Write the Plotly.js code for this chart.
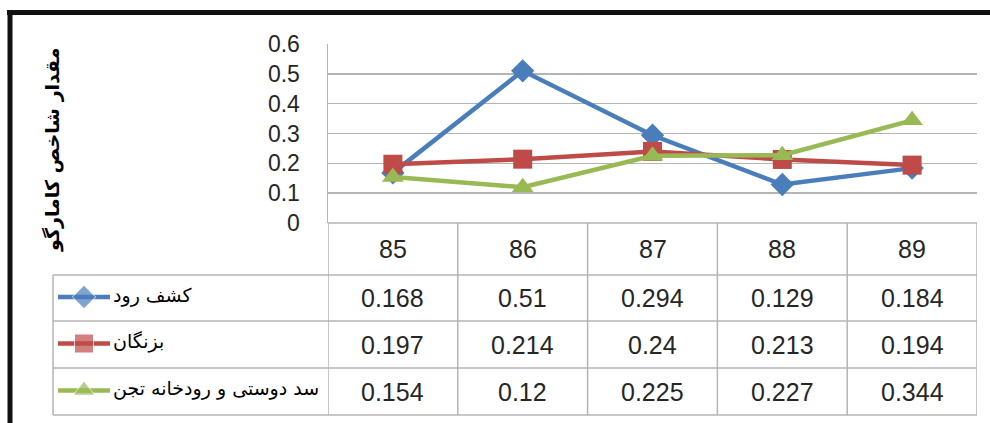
<!DOCTYPE html>
<html><head><meta charset="utf-8">
<script src="https://cdn.plot.ly/plotly-3.0.1.min.js"></script>
<style>html,body{margin:0;padding:0;background:#fff}#chart{width:990px;height:423px}</style>
</head><body><div id="chart"></div>
<script>
// ---- data ----
const years = ['85', '86', '87', '88', '89'];
const seriesNames = ['کشف رود', 'بزنگان', 'سد دوستی و رودخانه تجن'];
const kashafRud = [0.168, 0.51, 0.294, 0.129, 0.184];
const bazangan = [0.197, 0.214, 0.24, 0.213, 0.194];
const dustiTajan = [0.154, 0.12, 0.225, 0.227, 0.344];
const yTitle = 'مقدار شاخص کامارگو';

// ---- styles / geometry ----
const W = 990, H = 423;
const L = 328, R = 977, T = 44, B = 223;        // plot area (pixels)
const rowLines = [223, 275, 321, 368, 415];      // table horizontal lines
const tableLeft = 53;
const colors = ['#4A7EBB', '#BE4B48', '#98B954'];
const symbols = ['diamond', 'square', 'triangle-up'];
const msizes = [18, 19, 19];
const seriesVals = [kashafRud, bazangan, dustiTajan];
const numFont = {family: '"Liberation Sans", Arial, sans-serif', size: 25, color: '#262626'};
const arFont = {family: '"DejaVu Sans", sans-serif', size: 19, color: '#000'};
const gridCol = '#B4B4B4';

const traces = [];
seriesVals.forEach((vals, i) => {
  traces.push({
    type: 'scatter', mode: 'lines+markers', x: years, y: vals, name: seriesNames[i],
    line: {color: colors[i], width: 4.5}, marker: {symbol: symbols[i], size: msizes[i], color: colors[i]},
    xaxis: 'x', yaxis: 'y', showlegend: false, hoverinfo: 'skip'
  });
});

const shapes = [];
const annotations = [];
// black frame (top + left)
shapes.push({type: 'line', xref: 'x2', yref: 'y2', x0: 7, x1: 990, y0: 12.5, y1: 12.5, line: {color: '#111', width: 5}});
shapes.push({type: 'line', xref: 'x2', yref: 'y2', x0: 10, x1: 10, y0: 10, y1: 423, line: {color: '#111', width: 5}});

// table horizontal lines
rowLines.forEach((y, k) => {
  shapes.push({type: 'line', xref: 'x2', yref: 'y2', x0: k === 0 ? L : tableLeft, x1: R, y0: y, y1: y,
    line: {color: gridCol, width: 1.5}});
});
// table vertical lines (category boundaries)
for (let k = 0; k <= years.length; k++) {
  shapes.push({type: 'line', xref: 'x', yref: 'y2', x0: k - 0.5, x1: k - 0.5, y0: rowLines[0], y1: rowLines[4],
    line: {color: gridCol, width: 1.5}});
}
// left column vertical line
shapes.push({type: 'line', xref: 'x2', yref: 'y2', x0: tableLeft, x1: tableLeft, y0: rowLines[1], y1: rowLines[4],
  line: {color: gridCol, width: 1.5}});

// header years
years.forEach((yr, j) => {
  annotations.push({xref: 'x', yref: 'y2', x: j, y: (rowLines[0] + rowLines[1]) / 2, text: yr,
    showarrow: false, font: numFont, xanchor: 'center', yanchor: 'middle'});
});
// values
seriesVals.forEach((vals, i) => {
  const yc = (rowLines[i + 1] + rowLines[i + 2]) / 2;
  vals.forEach((v, j) => {
    annotations.push({xref: 'x', yref: 'y2', x: j, y: yc, text: String(v),
      showarrow: false, font: numFont, xanchor: 'center', yanchor: 'middle'});
  });
  // legend key
  traces.push({
    type: 'scatter', mode: 'lines+markers', x: [58, 84, 110], y: [yc - 1, yc - 1, yc - 1],
    line: {color: colors[i], width: 4.5},
    marker: {symbol: symbols[i], size: [0, msizes[i], 0], color: colors[i]},
    xaxis: 'x2', yaxis: 'y2', showlegend: false, hoverinfo: 'skip', cliponaxis: false
  });
  annotations.push({xref: 'x2', yref: 'y2', x: 111, y: yc - 3, text: seriesNames[i],
    showarrow: false, font: arFont, xanchor: 'left', yanchor: 'middle'});
});
// y axis title
annotations.push({xref: 'x2', yref: 'y2', x: 52, y: 150, text: '<b>' + yTitle + '</b>', textangle: -90,
  showarrow: false, font: {family: '"DejaVu Sans", sans-serif', size: 19, color: '#000'},
  xanchor: 'center', yanchor: 'middle'});

const layout = {
  width: W, height: H, margin: {l: 0, r: 0, t: 0, b: 0},
  paper_bgcolor: '#fff', plot_bgcolor: 'rgba(0,0,0,0)', showlegend: false,
  xaxis: {type: 'category', domain: [L / W, R / W], range: [-0.5, years.length - 0.5],
    showticklabels: false, showgrid: false, zeroline: false, showline: false, ticks: '', fixedrange: true},
  yaxis: {domain: [(H - B) / H, (H - T) / H], range: [0, 0.6], dtick: 0.1, tick0: 0,
    showgrid: true, gridcolor: gridCol, gridwidth: 1.5, zeroline: false,
    showline: true, linecolor: gridCol, linewidth: 1.5, ticks: '', ticklabelstandoff: 22,
    tickfont: {family: numFont.family, size: 23, color: '#262626'}, fixedrange: true},
  xaxis2: {domain: [0, 1], range: [0, W], visible: false, fixedrange: true, anchor: 'y2'},
  yaxis2: {domain: [0, 1], range: [H, 0], visible: false, fixedrange: true, anchor: 'x2'},
  shapes: shapes, annotations: annotations
};

Plotly.newPlot('chart', traces, layout, {displayModeBar: false, staticPlot: true});
</script>
</body></html>
